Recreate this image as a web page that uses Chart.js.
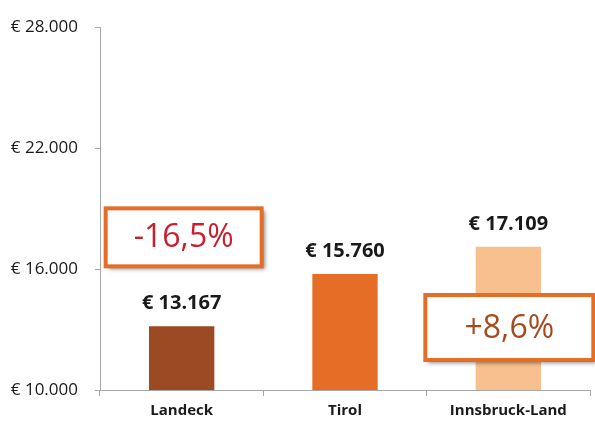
<!DOCTYPE html>
<html>
<head>
<meta charset="utf-8">
<script src="https://cdn.jsdelivr.net/npm/chart.js@4/dist/chart.umd.min.js"></script>
<style>
  html, body { margin: 0; padding: 0; background: #fff; }
  #wrap { width: 595px; height: 422px; }
</style>
</head>
<body>
<div id="wrap"><canvas id="chart" width="595" height="422"></canvas></div>
<script>
// Daten
var regionen = ['Landeck', 'Tirol', 'Innsbruck-Land'];
var werte = [13167, 15760, 17109];
var farben = ['#9B4A23', '#E66D26', '#F8C08F'];
var yTicks = [10000, 16000, 22000, 28000];
var abweichungen = ['-16,5%', '+8,6%'];

// Tausenderpunkt
function euro(v) {
  return '€ ' + String(Math.round(v)).replace(/\B(?=(\d{3})+(?!\d))/g, '.');
}

// Werte über den Balken
var wertLabels = {
  id: 'wertLabels',
  afterDatasetsDraw: function(chart) {
    var ctx = chart.ctx;
    var meta = chart.getDatasetMeta(0);
    ctx.save();
    ctx.font = 'bold 20px "Open Sans"';
    ctx.fillStyle = '#1a1a1a';
    ctx.textAlign = 'center';
    ctx.textBaseline = 'alphabetic';
    meta.data.forEach(function(bar, i) {
      ctx.fillText(euro(werte[i]), bar.x, bar.y - 17);
    });
    ctx.restore();
  }
};

// Kästchen mit Prozent-Abweichung
var kaestchen = {
  id: 'kaestchen',
  afterDraw: function(chart) {
    var ctx = chart.ctx;
    var xs = chart.scales.x, ys = chart.scales.y;
    var boxen = [
      { idx: 0, wert: 17574, dx: 2, w: 156, h: 58, text: abweichungen[0], col: '#C8202F' },
      { idx: 2, wert: 13100, dx: 1, w: 168, h: 65, text: abweichungen[1], col: '#A44B1F' }
    ];
    boxen.forEach(function(b) {
      var cx = xs.getPixelForValue(b.idx) + b.dx;
      var cy = ys.getPixelForValue(b.wert);
      var x = cx - b.w / 2, y = cy - b.h / 2;
      ctx.save();
      ctx.shadowColor = 'rgba(0,0,0,0.45)';
      ctx.shadowBlur = 4;
      ctx.shadowOffsetX = 3;
      ctx.shadowOffsetY = 3;
      ctx.fillStyle = '#fff';
      ctx.fillRect(x, y, b.w, b.h);
      ctx.shadowColor = 'transparent';
      ctx.lineWidth = 4;
      ctx.strokeStyle = '#E66D26';
      ctx.strokeRect(x, y, b.w, b.h);
      ctx.font = '32px "Open Sans"';
      ctx.fillStyle = b.col;
      ctx.textAlign = 'center';
      ctx.textBaseline = 'middle';
      ctx.fillText(b.text, cx, cy + 1);
      ctx.restore();
    });
  }
};

var ctx = document.getElementById('chart').getContext('2d');
var myChart = new Chart(ctx, {
  type: 'bar',
  data: {
    labels: regionen,
    datasets: [{
      data: werte,
      backgroundColor: farben,
      barPercentage: 0.4,
      categoryPercentage: 1.0
    }]
  },
  options: {
    responsive: false,
    animation: false,
    layout: { padding: { top: 24, right: 5, left: 0, bottom: 0 } },
    plugins: {
      legend: { display: false },
      tooltip: { enabled: false }
    },
    scales: {
      x: {
        grid: {
          display: true,
          drawOnChartArea: false,
          drawTicks: true,
          tickLength: 6,
          color: '#A6A6A6',
          offset: true
        },
        border: { color: '#A6A6A6', width: 1 },
        ticks: {
          color: '#1a1a1a',
          font: { family: 'Open Sans', size: 15, weight: 'bold' },
          padding: 6
        },
        afterFit: function(s) { s.height = 32; }
      },
      y: {
        min: 10000,
        max: 28000,
        afterBuildTicks: function(s) {
          s.ticks = yTicks.map(function(v) { return { value: v }; });
        },
        grid: {
          display: true,
          drawOnChartArea: false,
          drawTicks: true,
          tickLength: 5,
          color: '#A6A6A6'
        },
        border: { color: '#A6A6A6', width: 1 },
        ticks: {
          color: '#1a1a1a',
          font: { family: 'Open Sans', size: 17 },
          padding: 17,
          callback: function(v) { return euro(v); }
        },
        afterFit: function(s) { s.width = 100; }
      }
    }
  },
  plugins: [wertLabels, kaestchen]
});
</script>
</body>
</html>
